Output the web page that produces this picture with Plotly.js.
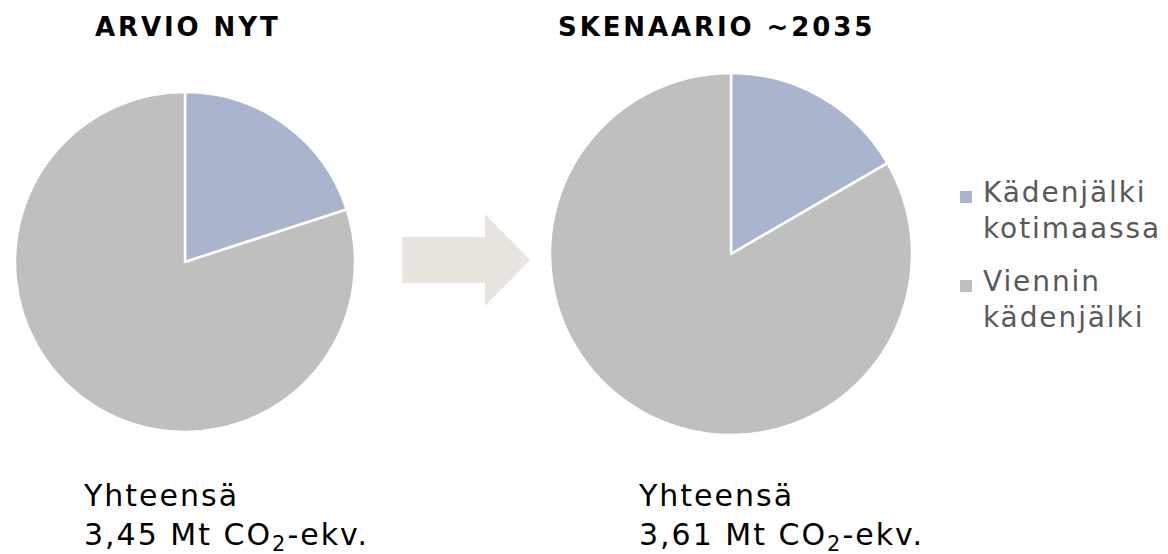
<!DOCTYPE html>
<html>
<head>
<meta charset="utf-8">
<script src="https://cdn.plot.ly/plotly-3.0.1.min.js"></script>
<style>
  html, body { margin: 0; padding: 0; background: #fff; }
  #chart { width: 1168px; height: 554px; }
</style>
</head>
<body>
<div id="chart"></div>
<script>
    // Kädenjälki, Mt CO2-ekv.
    const categories = ["Kädenjälki<br>kotimaassa", "Viennin<br>kädenjälki"];
    const nowValues = [0.69, 2.76];
    const scenarioValues = [0.60, 3.01];
    const titles = ["ARVIO NYT", "SKENAARIO ~2035"];
    const totals = ["3,45", "3,61"];

    const colors = ["#A9B5CE", "#BFBFBF"];
    const font = "Verdana, 'DejaVu Sans', sans-serif";
    const W = 1168, H = 554;

    // harvennettu teksti, referenssin fontti on leveämpi
    const spaced = (txt, px) => `<span style="letter-spacing:${px}px">${txt}</span>`;

    const makePie = (values, domain) => ({
      type: "pie",
      labels: categories,
      values: values,
      sort: false,
      direction: "clockwise",
      rotation: 0,
      textinfo: "none",
      hoverinfo: "label+value",
      marker: { colors: colors, line: { color: "#ffffff", width: 2.5 } },
      domain: domain,
      showlegend: false
    });

    const data = [
      makePie(nowValues, { x: [15 / W, 355 / W], y: [122 / H, 462 / H] }),
      makePie(scenarioValues, { x: [550 / W, 912 / W], y: [119 / H, 481 / H] })
    ];

    const titleAnn = (text, x) => ({
      text: "<b>" + spaced(text, 2.9) + "</b>",
      x: x / W, y: 1 - 10 / H, xref: "paper", yref: "paper",
      showarrow: false, xanchor: "center", yanchor: "top",
      font: { family: font, size: 26, color: "#000" }
    });

    const totalAnn = (total, x) => ({
      text: spaced("Yhteensä", 2.0) + "<br>" + spaced(total + " Mt CO<sub>2</sub>-ekv.", 2.0),
      x: x / W, y: 1 - 476 / H, xref: "paper", yref: "paper",
      showarrow: false, xanchor: "left", yanchor: "top", align: "left",
      font: { family: font, size: 30, color: "#000" }
    });

    // selite käsin, jotta rivivälit vastaavat alkuperäistä
    const legendTops = [174, 263];
    const legendAnns = categories.map((c, i) => ({
      text: c.split("<br>").map(s => spaced(s, 1.9)).join("<br>"),
      x: 981 / W, y: 1 - legendTops[i] / H, xref: "paper", yref: "paper",
      showarrow: false, xanchor: "left", yanchor: "top", align: "left",
      font: { family: font, size: 28, color: "#595959" }
    }));
    const legendBoxes = categories.map((c, i) => ({
      type: "rect", xref: "paper", yref: "paper",
      x0: 960 / W, x1: 972 / W,
      y0: 1 - (legendTops[i] + 17) / H, y1: 1 - (legendTops[i] + 29) / H,
      fillcolor: colors[i], line: { width: 0 }
    }));

    const layout = {
      width: W,
      height: H,
      margin: { l: 0, r: 0, t: 0, b: 0 },
      paper_bgcolor: "#fff",
      font: { family: font },
      showlegend: false,
      annotations: [
        titleAnn(titles[0], 188),
        titleAnn(titles[1], 716),
        totalAnn(totals[0], 81),
        totalAnn(totals[1], 636)
      ].concat(legendAnns),
      shapes: [
        {
          // nuoli
          type: "path", xref: "paper", yref: "paper",
          path: "M 0.3442 0.5722 L 0.4152 0.5722 L 0.4152 0.6137 L 0.4538 0.5307 L 0.4152 0.4477 L 0.4152 0.4892 L 0.3442 0.4892 Z",
          fillcolor: "#E8E5DF", line: { width: 0 }
        }
      ].concat(legendBoxes)
    };

    Plotly.newPlot("chart", data, layout, { displayModeBar: false, staticPlot: true });
</script>
</body>
</html>
